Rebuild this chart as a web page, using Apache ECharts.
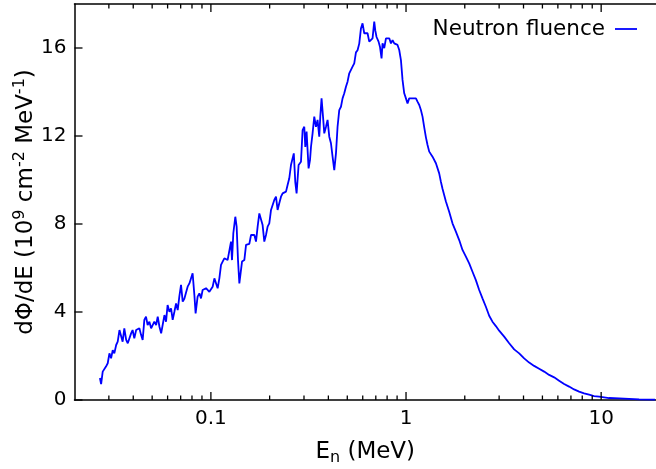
<!DOCTYPE html>
<html><head><meta charset="utf-8">
<script src="https://cdn.jsdelivr.net/npm/echarts@6/dist/echarts.min.js"></script>
<style>html,body{margin:0;padding:0;background:#fff}#c{width:656px;height:469px}</style>
</head><body><div id="c"></div>
<script>
// Neutron energy (MeV)
const energy = [
0.0270,0.02738,0.0279,0.0290,0.0296,0.0302,0.0308,0.0314,0.0320,0.0327,
0.0333,0.0340,0.0347,0.0353,0.0360,0.0368,0.0375,0.0382,0.0390,0.0397,
0.0405,0.0414,0.0422,0.0430,0.0439,0.0447,0.0456,0.0465,0.0474,0.0484,
0.0494,0.0503,0.0513,0.0524,0.0534,0.0545,0.0556,0.0566,0.0578,0.0589,
0.0600,0.0613,0.0625,0.0637,0.0650,0.0663,0.0676,0.0689,0.0703,0.0717,
0.0731,0.0746,0.0760,0.0776,0.0791,0.0806,0.0823,0.0835,0.0855,0.0873,
0.0890,0.0907,0.0944,0.0963,0.0982,0.1002,0.1021,0.1042,0.1063,0.1083,
0.1105,0.1127,0.1149,0.1172,0.1196,0.1218,0.1243,0.1268,0.1283,0.1303,
0.1334,0.1355,0.1377,0.1399,0.1427,0.1444,0.1484,0.1514,0.1543,0.1574,
0.1606,0.1636,0.1670,0.1703,0.1736,0.1771,0.1807,0.1841,0.1878,0.1916,
0.1953,0.1992,0.2033,0.2072,0.2113,0.2156,0.2197,0.2241,0.2287,0.2331,
0.2378,0.2426,0.2472,0.2522,0.2573,0.2622,0.2660,0.2707,0.2749,0.2815,
0.2895,0.2951,0.3010,0.3046,0.3093,0.3167,0.3220,0.3258,0.3320,0.3387,
0.3455,0.3521,0.3592,0.3636,0.3691,0.3766,0.3811,0.3889,0.3962,0.4043,
0.4124,0.4203,0.4288,0.4375,0.4458,0.4548,0.4640,0.4729,0.4825,0.4922,
0.5016,0.5118,0.5221,0.5321,0.5428,0.5538,0.5644,0.5758,0.5875,0.5987,
0.6108,0.6232,0.6351,0.6479,0.6611,0.6737,0.6873,0.6956,0.7062,0.7232,
0.7351,0.7491,0.7580,0.7733,0.7891,0.8040,0.8204,0.8370,0.8530,0.8703,
0.8879,0.9047,0.9230,0.9417,0.9596,0.9790,0.9989,1.018,1.038,1.060,
1.080,1.102,1.124,1.145,1.169,1.192,1.215,1.239,1.264,1.288,
1.315,1.367,1.423,1.479,1.509,1.538,1.601,1.664,1.730,1.801,
1.873,1.947,2.027,2.107,2.191,2.280,2.371,2.465,2.566,2.668,
2.773,2.887,3.001,3.184,3.378,3.583,3.801,4.031,4.276,4.535,
4.811,5.103,5.412,5.741,6.089,6.459,6.851,7.267,7.709,8.177,
8.674,9.200,9.759,10.35,10.98,12.36,13.90,15.64,18.90
];
// dPhi/dE (1e9 cm^-2 MeV^-1)
const fluence = [
1.0,0.72,1.29,1.52,1.67,2.12,1.9,2.27,2.12,2.5,
2.65,3.18,3.26,2.65,3.26,2.73,2.58,2.65,3.03,3.18,
2.8,3.18,3.1,3.26,2.95,2.73,3.64,3.79,3.41,3.56,
3.26,3.18,3.56,3.41,3.79,3.33,3.03,3.41,3.86,3.56,
4.32,4.01,4.17,3.64,4.01,4.39,4.09,4.7,5.23,4.47,
4.6,4.55,5.15,5.3,5.38,5.76,4.77,3.94,4.7,4.85,
4.62,5.0,5.08,5.0,4.92,5.0,5.15,5.53,5.5,5.08,
5.53,6.14,6.29,6.44,6.5,6.36,6.44,7.2,6.36,7.58,
8.33,7.88,6.36,5.3,5.3,6.29,6.36,7.05,7.12,7.1,
7.5,7.42,7.5,7.2,7.88,8.48,8.56,7.95,7.2,7.5,
7.88,8.03,8.64,8.71,9.09,9.24,8.64,8.94,9.24,9.39,
9.47,9.47,9.77,10.08,10.68,10.68,11.21,9.9,9.39,10.68,
10.83,12.27,12.42,11.5,12.2,10.53,10.9,11.5,12.12,12.88,
12.42,12.73,11.97,12.88,13.71,12.73,12.12,12.42,12.73,11.97,
11.67,11.06,10.45,11.21,12.42,13.18,13.33,13.71,13.94,14.24,
14.47,14.85,14.92,15.15,15.3,15.8,15.9,16.2,16.89,17.12,
16.67,16.6,16.67,16.29,16.21,16.44,17.2,16.8,16.5,16.29,
16.06,15.53,16.21,15.99,16.44,16.36,16.44,16.21,16.36,16.21,
16.29,16.14,15.91,15.45,14.55,13.94,13.71,13.48,13.71,13.64,
13.71,13.64,13.71,13.56,13.41,13.18,12.88,12.4,11.95,11.6,
11.29,11.06,10.76,10.3,9.92,9.6,9.02,8.56,8.03,7.65,
7.27,6.82,6.52,6.21,5.83,5.45,5.0,4.62,4.24,3.83,
3.56,3.36,3.15,2.88,2.58,2.3,2.12,1.89,1.70,1.55,
1.42,1.29,1.14,1.03,0.88,0.73,0.61,0.48,0.38,0.30,
0.24,0.18,0.15,0.12,0.09,0.07,0.05,0.03,0.02
];
const seriesName = 'Neutron fluence';
const xMajorTicks = [0.1, 1, 10];
const xMinorTicks = [0.03,0.04,0.05,0.06,0.07,0.08,0.09,0.2,0.3,0.4,0.5,0.6,0.7,0.8,0.9,2,3,4,5,6,7,8,9];
const yTicks = [0, 4, 8, 12, 16];
const xRange = [0.02, 19.1];
const yRange = [0, 18];
const yStep = 4;

const FONT = 'DejaVu Sans';
const BLACK = '#000';
const ls = () => ({color: BLACK, width: 1.5});

function isMajor(v) { return xMajorTicks.some(t => Math.abs(t - v) / t < 1e-6); }

function xAx(pos, opts) {
  return Object.assign({
    type: 'log', logBase: 10, min: xRange[0], max: xRange[1], position: pos,
    axisLine: {show: true, onZero: false, lineStyle: ls()},
    axisTick: {show: false},
    minorTick: {show: false},
    axisLabel: {show: false}, splitLine: {show: false}, minorSplitLine: {show: false}
  }, opts || {});
}

// Tick marks drawn through the axis scales (inward, bottom+top for x, left for y)
function xTickSeries(values, len) {
  return {
    type: 'custom', silent: true, clip: false, z: 10, xAxisIndex: 0, yAxisIndex: 0,
    data: values.map(v => [v]),
    renderItem: (params, api) => {
      const b = api.coord([api.value(0), yRange[0]]);
      const t = api.coord([api.value(0), yRange[1]]);
      const st = {stroke: BLACK, lineWidth: 1.3};
      return {type: 'group', children: [
        {type: 'line', shape: {x1: b[0], y1: b[1], x2: b[0], y2: b[1] - len}, style: st},
        {type: 'line', shape: {x1: t[0], y1: t[1], x2: t[0], y2: t[1] + len}, style: st}
      ]};
    }
  };
}
function yTickSeries(values, len) {
  return {
    type: 'custom', silent: true, clip: false, z: 10, xAxisIndex: 0, yAxisIndex: 0,
    data: values.map(v => [xRange[0], v]),
    renderItem: (params, api) => {
      const p = api.coord([xRange[0], api.value(1)]);
      return {type: 'line', shape: {x1: p[0], y1: p[1], x2: p[0] + len, y2: p[1]},
        style: {stroke: BLACK, lineWidth: 1.3}};
    }
  };
}

const chart = echarts.init(document.getElementById('c'), null, {renderer: 'canvas'});
chart.setOption({
  animation: false,
  textStyle: {fontFamily: FONT},
  grid: {left: 74.5, right: 0, top: 4, bottom: 69, outerBoundsMode: 'none', containLabel: false},
  legend: {
    data: [seriesName], right: 19, top: 18, padding: 0, align: 'right',
    icon: 'rect', itemWidth: 22, itemHeight: 1.8,
    textStyle: {fontFamily: FONT, fontSize: 21.5, color: BLACK, padding: [0, 5, 0, 0]}
  },
  xAxis: [
    xAx('bottom', {
      axisLabel: {show: true, margin: 9, color: BLACK, fontSize: 20, fontFamily: FONT,
        showMinLabel: false, showMaxLabel: false,
        formatter: v => isMajor(+v) ? String(+(+v).toPrecision(3)) : ''},
      name: '{a|E}{b|n}{a| (MeV)}', nameLocation: 'middle', nameGap: 38, nameMoveOverlap: false,
      nameTextStyle: {color: BLACK, rich: {
        a: {fontSize: 23, color: BLACK},
        b: {fontSize: 16, color: BLACK, padding: [12, 0, 0, 0]}
      }}
    }),
    xAx('top')
  ],
  yAxis: [
    {type: 'value', min: yRange[0], max: yRange[1], interval: yStep,
     axisLine: {show: true, onZero: false, lineStyle: ls()},
     axisTick: {show: false},
     axisLabel: {color: BLACK, fontSize: 20, fontFamily: FONT, margin: 8, showMaxLabel: false},
     splitLine: {show: false},
     name: '{a|dΦ/dE (10}{s|9}{a| cm}{s|-2}{a| MeV}{s|-1}{a|)}',
     nameLocation: 'middle', nameRotate: 90, nameGap: 33, nameMoveOverlap: false,
     nameTextStyle: {color: BLACK, rich: {
       a: {fontSize: 23, color: BLACK},
       s: {fontSize: 16, color: BLACK, padding: [0, 0, 14, 0]}
     }}
    }
  ],
  series: [
    {
      name: seriesName, type: 'line',
      data: energy.map((e, i) => [e, fluence[i]]),
      symbol: 'none', showSymbol: false,
      lineStyle: {color: '#0000ff', width: 1.8}, itemStyle: {color: '#0000ff'}
    },
    xTickSeries(xMajorTicks, 8),
    xTickSeries(xMinorTicks, 4.5),
    yTickSeries(yTicks, 8)
  ]
});
</script></body></html>
